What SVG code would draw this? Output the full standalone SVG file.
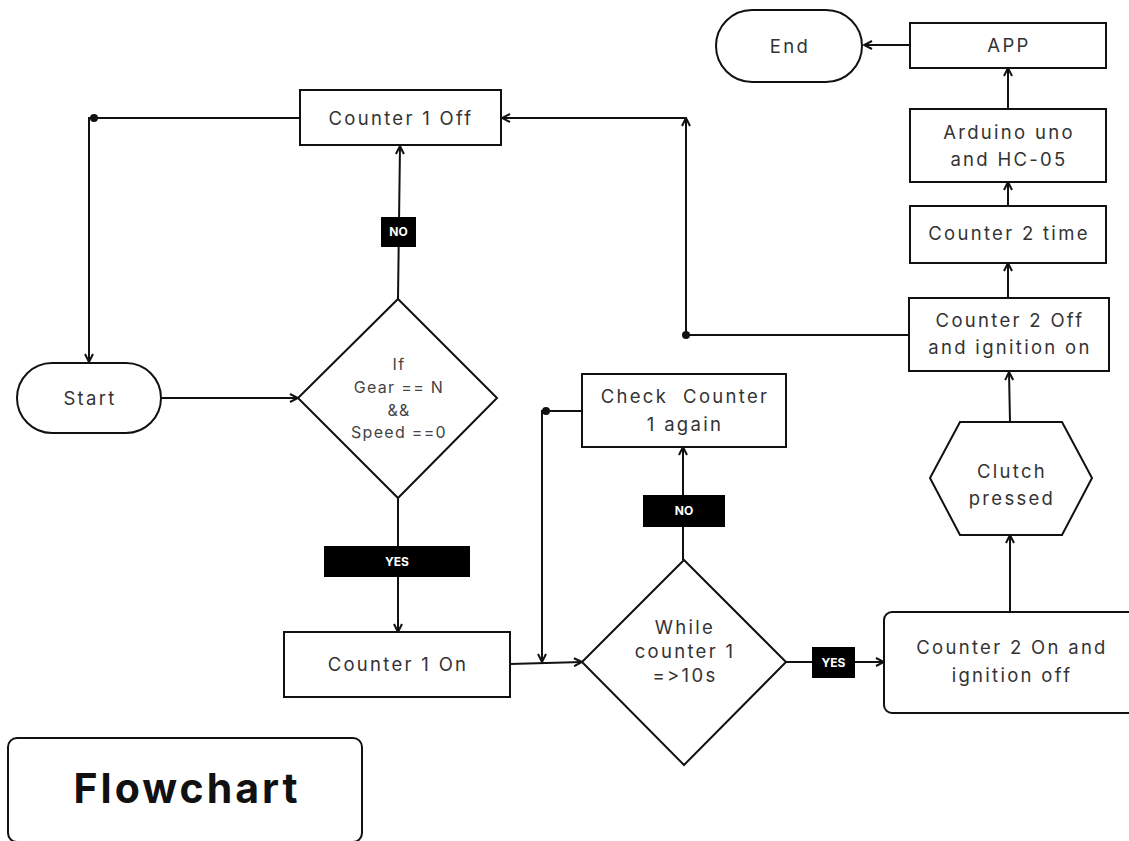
<svg xmlns="http://www.w3.org/2000/svg" width="1129" height="841" viewBox="0 0 1129 841">
<defs>
<marker id="arr" viewBox="0 0 10 10" refX="9" refY="5" markerWidth="10" markerHeight="10" markerUnits="userSpaceOnUse" orient="auto">
<path d="M1,1 L9,5 L1,9" fill="none" stroke="#111" stroke-width="2"/>
</marker>
<style>
.shape{fill:#fff;stroke:#111;stroke-width:2}
.t{font-family:Inter,"Liberation Sans",sans-serif;font-size:18.5px;fill:#333;text-anchor:middle;letter-spacing:2.3px}
.ts{font-family:Inter,"Liberation Sans",sans-serif;font-size:16px;fill:#444;text-anchor:middle;letter-spacing:1.3px}
.lbl{fill:#000}
.lt{font-family:Inter,"Liberation Sans",sans-serif;font-size:12px;font-weight:700;fill:#fff;text-anchor:middle}
.c{fill:none;stroke:#111;stroke-width:2}
</style>
</defs>
<rect width="1129" height="841" fill="#fff"/>

<g id="connectors">
<polyline class="c" points="300,118 94,118 89,118 89,362" marker-end="url(#arr)"/>
<circle cx="94" cy="118" r="4" fill="#111"/>
<line class="c" x1="161" y1="398" x2="298" y2="398" marker-end="url(#arr)"/>
<line class="c" x1="398" y1="299" x2="400" y2="146" marker-end="url(#arr)"/>
<line class="c" x1="398" y1="498" x2="398" y2="632" marker-end="url(#arr)"/>
<line class="c" x1="510" y1="664" x2="582" y2="662" marker-end="url(#arr)"/>
<polyline class="c" points="582,411 546,411 542,411 542,662" marker-end="url(#arr)"/>
<circle cx="546" cy="411" r="4" fill="#111"/>
<line class="c" x1="683" y1="560" x2="683" y2="447" marker-end="url(#arr)"/>
<line class="c" x1="786" y1="662" x2="884" y2="662" marker-end="url(#arr)"/>
<line class="c" x1="1010" y1="612" x2="1010" y2="535" marker-end="url(#arr)"/>
<line class="c" x1="1010" y1="422" x2="1009" y2="372" marker-end="url(#arr)"/>
<line class="c" x1="909" y1="335" x2="686" y2="335"/>
<circle cx="686" cy="335" r="4" fill="#111"/>
<line class="c" x1="686" y1="335" x2="686" y2="118" marker-end="url(#arr)"/>
<line class="c" x1="686" y1="118" x2="502" y2="118" marker-end="url(#arr)"/>
<line class="c" x1="1008" y1="298" x2="1008" y2="263" marker-end="url(#arr)"/>
<line class="c" x1="1008" y1="206" x2="1008" y2="182" marker-end="url(#arr)"/>
<line class="c" x1="1008" y1="109" x2="1008" y2="68" marker-end="url(#arr)"/>
<line class="c" x1="910" y1="45" x2="864" y2="45" marker-end="url(#arr)"/>
<rect class="lbl" x="381" y="217" width="35" height="30"/>
<text class="lt" x="398.5" y="236">NO</text>
<rect class="lbl" x="324" y="546" width="146" height="31"/>
<text class="lt" x="397" y="566">YES</text>
<rect class="lbl" x="643" y="495" width="82" height="32"/>
<text class="lt" x="684" y="515">NO</text>
<rect class="lbl" x="812" y="647" width="43" height="31"/>
<text class="lt" x="833.5" y="667">YES</text>
</g>

<g id="counter1off">
<rect class="shape" x="300" y="90" width="201" height="55"/>
<text class="t" x="401" y="125">Counter 1 Off</text>
</g>
<g id="start">
<rect class="shape" x="17" y="363" width="144" height="70" rx="35"/>
<text class="t" x="90" y="405">Start</text>
</g>
<g id="decision1">
<polygon class="shape" points="398,299 497,398 398,498 298,398"/>
<text class="ts" x="399" y="370">If</text>
<text class="ts" x="399" y="393">Gear == N</text>
<text class="ts" x="399" y="416">&amp;&amp;</text>
<text class="ts" x="399" y="438">Speed ==0</text>
</g>
<g id="counter1on">
<rect class="shape" x="284" y="632" width="226" height="65"/>
<text class="t" x="398" y="671">Counter 1 On</text>
</g>
<g id="checkcounter">
<rect class="shape" x="582" y="374" width="204" height="73"/>
<text class="t" x="685" y="403" xml:space="preserve">Check  Counter</text>
<text class="t" x="685" y="431">1 again</text>
</g>
<g id="decision2">
<polygon class="shape" points="684,560 786,662 684,765 582,662"/>
<text class="t" x="685" y="634">While</text>
<text class="t" x="685" y="658">counter 1</text>
<text class="t" x="685" y="682">=&gt;10s</text>
</g>
<g id="counter2on">
<rect class="shape" x="884" y="612" width="262" height="101" rx="8"/>
<text class="t" x="1012" y="654">Counter 2 On and</text>
<text class="t" x="1012" y="682">ignition off</text>
</g>
<g id="clutch">
<polygon class="shape" points="960,422 1062,422 1092,478 1062,535 960,535 930,478"/>
<text class="t" x="1012" y="478">Clutch</text>
<text class="t" x="1012" y="505">pressed</text>
</g>
<g id="counter2off">
<rect class="shape" x="909" y="298" width="200" height="73"/>
<text class="t" x="1010" y="327">Counter 2 Off</text>
<text class="t" x="1010" y="354">and ignition on</text>
</g>
<g id="counter2time">
<rect class="shape" x="910" y="206" width="196" height="57"/>
<text class="t" x="1009" y="240">Counter 2 time</text>
</g>
<g id="arduino">
<rect class="shape" x="910" y="109" width="196" height="73"/>
<text class="t" x="1009" y="139">Arduino uno</text>
<text class="t" x="1009" y="166">and HC-05</text>
</g>
<g id="app">
<rect class="shape" x="910" y="23" width="196" height="45"/>
<text class="t" x="1009" y="52">APP</text>
</g>
<g id="end">
<rect class="shape" x="716" y="10" width="146" height="72" rx="36"/>
<text class="t" x="790" y="53">End</text>
</g>
<g id="title">
<rect class="shape" x="8" y="738" width="354" height="104" rx="9"/>
<text x="187" y="803" font-family="Inter,'Liberation Sans',sans-serif" font-size="41" font-weight="700" fill="#111" text-anchor="middle" letter-spacing="3">Flowchart</text>
</g>
</svg>
